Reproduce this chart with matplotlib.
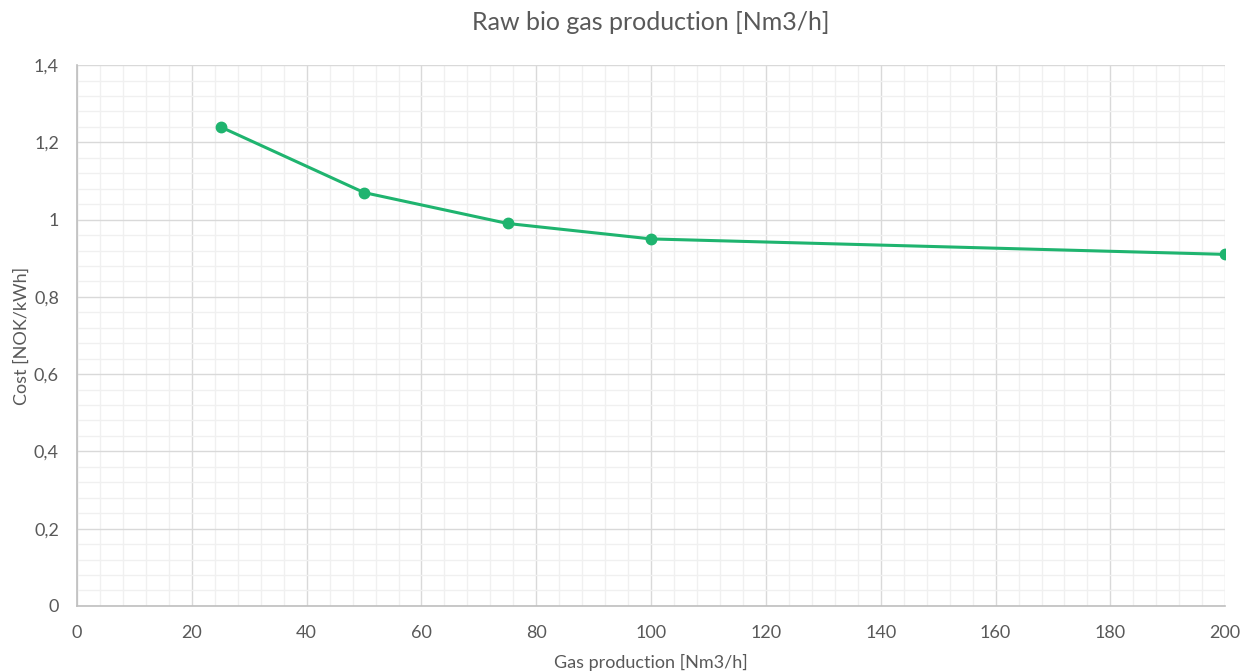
import matplotlib.pyplot as plt
import numpy as np
from matplotlib.ticker import MultipleLocator, FuncFormatter

gas = [25, 50, 75, 100, 200]
cost = [1.24, 1.07, 0.99, 0.95, 0.91]

plt.rcParams['font.family'] = ['Lato', 'DejaVu Sans']
grey = '#595959'

fig = plt.figure(figsize=(12.42, 6.71), dpi=100)
ax = fig.add_axes([0.062, 0.097, 0.9245, 0.806])

ax.plot(gas, cost, color='#1fb46f', lw=2.2, marker='o', ms=7.5, zorder=3)

ax.set_xlim(0, 200)
ax.set_ylim(0, 1.4)
ax.xaxis.set_major_locator(MultipleLocator(20))
ax.xaxis.set_minor_locator(MultipleLocator(4))
ax.yaxis.set_major_locator(MultipleLocator(0.2))
ax.yaxis.set_minor_locator(MultipleLocator(0.04))
ax.yaxis.set_major_formatter(FuncFormatter(lambda v, p: ('%g' % round(v, 1)).replace('.', ',')))

ax.grid(which='major', color='#d9d9d9', lw=1.0)
ax.grid(which='minor', color='#f0f0f0', lw=1.0)
ax.set_axisbelow(True)
for s in ['top', 'right']:
    ax.spines[s].set_visible(False)
for s in ['left', 'bottom']:
    ax.spines[s].set_color('#bfbfbf')
    ax.spines[s].set_linewidth(1.2)
ax.tick_params(which='both', length=0, colors=grey, labelsize=13)
ax.tick_params(axis='x', pad=14)
ax.tick_params(axis='y', pad=13)

ax.set_title('Raw bio gas production [Nm3/h]', fontsize=18, color=grey, pad=25)
ax.set_xlabel('Gas production [Nm3/h]', fontsize=13, color=grey, labelpad=9)
ax.set_ylabel('Cost [NOK/kWh]', fontsize=13, color=grey, labelpad=3)

fig.savefig('out.png', dpi=100)
